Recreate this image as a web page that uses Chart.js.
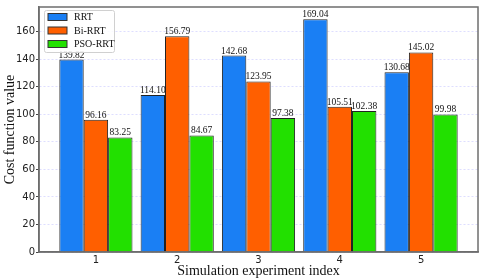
<!DOCTYPE html>
<html lang="en">
<head>
<meta charset="UTF-8">
<title>Cost function value</title>
<script src="https://cdn.jsdelivr.net/npm/chart.js"></script>
<style>
  html, body { margin: 0; padding: 0; background: #fff; }
  #wrap { width: 485px; height: 279px; }
</style>
</head>
<body>
<div id="wrap"><canvas id="costChart" width="485" height="279"></canvas></div>
<script>
const experiments = [1, 2, 3, 4, 5];
const seriesNames = ['RRT', 'Bi-RRT', 'PSO-RRT'];
const rrt = [139.82, 114.10, 142.68, 169.04, 130.68];
const biRrt = [96.16, 156.79, 123.95, 105.51, 145.02];
const psoRrt = [83.25, 84.67, 97.38, 102.38, 99.98];
const yTicks = [0, 20, 40, 60, 80, 100, 120, 140, 160];

const colors = ['#1a7ff4', '#ff5f00', '#22e000'];
const serif = '"Liberation Serif", "Times New Roman", serif';
const sans = '"DejaVu Sans", sans-serif';

function toPoints(values) {
    return values.map((v, i) => ({ x: experiments[i], y: v }));
}

// value labels, frame, legend and axis titles drawn on top
const extras = {
    id: 'extras',
    afterDatasetsDraw(chart) {
        const ctx = chart.ctx;
        const area = chart.chartArea;
        ctx.save();
        ctx.fillStyle = '#111';
        ctx.font = '9.5px ' + serif;
        ctx.textAlign = 'center';
        ctx.textBaseline = 'alphabetic';
        chart.data.datasets.forEach((ds, di) => {
            chart.getDatasetMeta(di).data.forEach((bar, i) => {
                ctx.fillText(ds.data[i].y.toFixed(2), bar.x, bar.y - 2);
            });
        });

        // frame
        ctx.strokeStyle = '#6e6e6e';
        ctx.lineWidth = 1.5;
        ctx.strokeRect(area.left, area.top, area.right - area.left, area.bottom - area.top);

        // legend
        const lx = 44, ly = 10, lw = 70, lh = 42;
        ctx.fillStyle = 'rgba(255,255,255,0.85)';
        ctx.strokeStyle = '#d0d0d0';
        ctx.lineWidth = 1;
        ctx.beginPath();
        ctx.roundRect(lx + 0.5, ly + 0.5, lw, lh, 2);
        ctx.fill();
        ctx.stroke();
        ctx.font = '10px ' + serif;
        ctx.textAlign = 'left';
        ctx.textBaseline = 'middle';
        seriesNames.forEach((name, i) => {
            const cy = 17 + i * 13.5;
            ctx.fillStyle = colors[i];
            ctx.fillRect(48, cy - 3.5, 19, 7);
            ctx.strokeStyle = '#333';
            ctx.strokeRect(48, cy - 3.5, 19, 7);
            ctx.fillStyle = '#111';
            ctx.fillText(name, 74, cy + 0.5);
        });

        // axis titles
        ctx.fillStyle = '#111';
        ctx.font = '14px ' + serif;
        ctx.textAlign = 'center';
        ctx.textBaseline = 'middle';
        ctx.fillText('Simulation experiment index', (area.left + area.right) / 2, 271);
        ctx.translate(10, (area.top + area.bottom) / 2);
        ctx.rotate(-Math.PI / 2);
        ctx.fillText('Cost function value', 0, 0);
        ctx.restore();
    }
};

new Chart(document.getElementById('costChart'), {
    type: 'bar',
    data: {
        datasets: [
            { label: seriesNames[0], data: toPoints(rrt), backgroundColor: colors[0] },
            { label: seriesNames[1], data: toPoints(biRrt), backgroundColor: colors[1] },
            { label: seriesNames[2], data: toPoints(psoRrt), backgroundColor: colors[2] }
        ]
    },
    options: {
        responsive: false,
        animation: false,
        devicePixelRatio: 1,
        layout: { padding: { top: 5, right: 7, left: 0, bottom: 0 } },
        datasets: {
            bar: {
                borderColor: '#222',
                borderWidth: 1,
                categoryPercentage: 0.9,
                barPercentage: 1.0
            }
        },
        plugins: {
            legend: { display: false },
            tooltip: { enabled: false }
        },
        scales: {
            x: {
                type: 'linear',
                offset: false,
                min: 0.3,
                max: 5.7,
                afterBuildTicks: s => { s.ticks = experiments.map(v => ({ value: v })); },
                afterFit: s => { s.height = 27; },
                grid: { drawOnChartArea: false, drawTicks: false },
                border: { color: '#6e6e6e', width: 1.5 },
                ticks: { color: '#222', font: { family: sans, size: 10 }, padding: 2 }
            },
            y: {
                min: 0,
                max: 178,
                afterBuildTicks: s => { s.ticks = yTicks.map(v => ({ value: v })); },
                afterFit: s => { s.width = 39; },
                grid: { color: 'rgba(190,190,255,0.5)', tickColor: '#444', tickLength: 3 },
                border: { color: '#6e6e6e', width: 1.5, dash: [2, 2] },
                ticks: { color: '#222', font: { family: sans, size: 10 }, padding: 1 }
            }
        }
    },
    plugins: [extras]
});
</script>
</body>
</html>
